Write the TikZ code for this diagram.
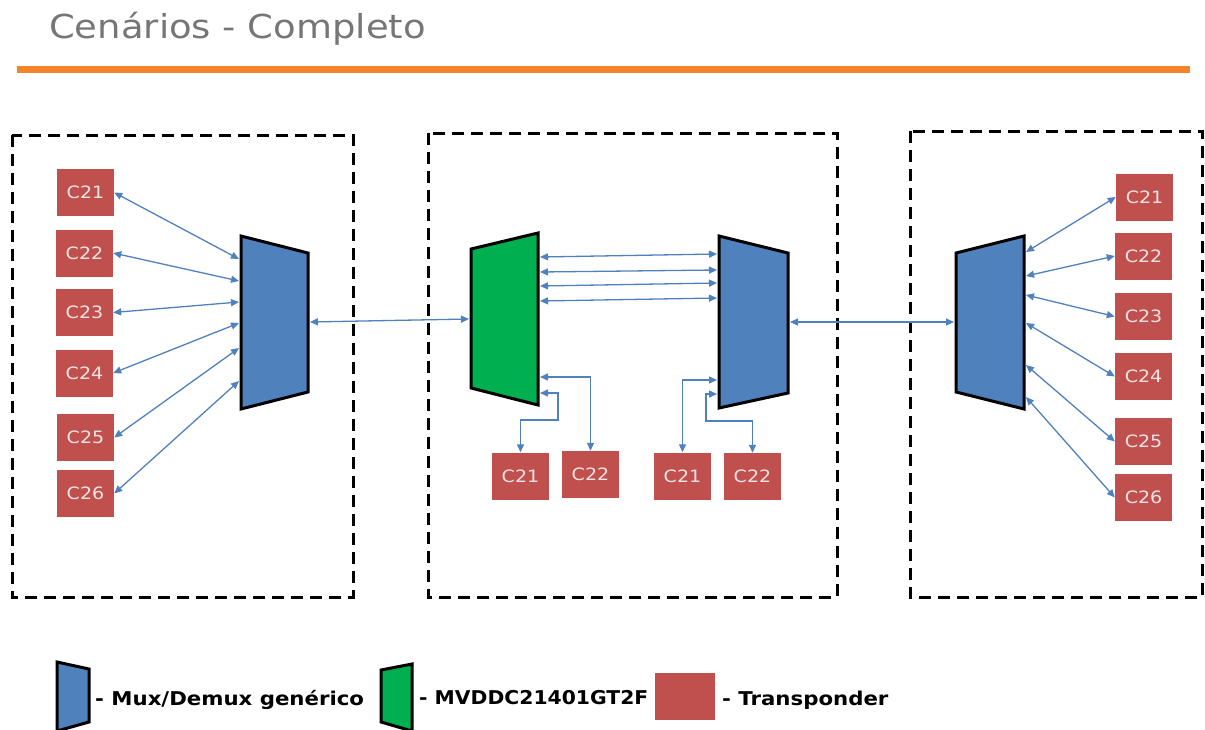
\documentclass[tikz,border=0pt]{standalone}
\usepackage{fontspec}
\setmainfont{DejaVu Sans}
\newfontfamily\wideface[FakeStretch=1.12]{DejaVu Sans}
\newfontfamily\midface[FakeStretch=1.07]{DejaVu Sans}
\usetikzlibrary{arrows.meta}
\definecolor{tpred}{RGB}{192,80,77}
\definecolor{muxblue}{RGB}{79,129,189}
\definecolor{mvgreen}{RGB}{0,176,80}
\definecolor{linkblue}{RGB}{79,129,189}
\definecolor{titlegray}{RGB}{118,118,118}
\definecolor{barorange}{RGB}{242,132,42}
\definecolor{tptext}{RGB}{245,228,227}

\begin{document}
\begin{tikzpicture}[x=1pt, y=-1pt,
	tp/.style={fill=tpred, text=tptext, minimum width=57pt, minimum height=47pt, inner sep=0pt, font=\wideface\fontsize{17}{20}\selectfont},
	link/.style={linkblue, line width=1.3pt, {Triangle[length=8pt,width=7pt]}-{Triangle[length=8pt,width=7pt]}},
	box/.style={line width=3pt, dash pattern=on 12pt off 7pt},
	mux/.style={draw=black, line width=3pt, line join=miter},
	legend/.style={anchor=west, inner sep=0pt, font=\wideface\bfseries\fontsize{19}{22}\selectfont}]
		\useasboundingbox (0, 0) rectangle (1205, 729);
		\node[anchor=base west, inner sep=0pt, text=titlegray, font=\wideface\fontsize{33}{38}\selectfont] (title) at (49, 38) {Cenários - Completo};
		\fill[barorange] (17, 66) rectangle (1190, 73);

		% dashed frames
		\draw[box] (12, 135) rectangle (353, 597);
		\draw[box] (428, 133) rectangle (837, 597);
		\draw[box] (910, 131) rectangle (1202, 597);

		% mux / demux
		\filldraw[mux, fill=muxblue] (241, 236) -- (308, 253) -- (308, 392) -- (241, 409) -- cycle;
		\filldraw[mux, fill=mvgreen] (471, 249) -- (538, 233) -- (538, 405) -- (471, 388) -- cycle;
		\filldraw[mux, fill=muxblue] (719, 236) -- (788, 253) -- (788, 393) -- (719, 408) -- cycle;
		\filldraw[mux, fill=muxblue] (956, 253) -- (1024, 236) -- (1024, 409) -- (956, 392) -- cycle;

		% ports
		\foreach \i/\y in {1/259, 2/281, 3/302, 4/323, 5/348, 6/381}
			\coordinate (lm\i) at (239, \y);
		\foreach \i/\y in {1/252, 2/276, 3/295, 4/323, 5/365, 6/397}
			\coordinate (rm\i) at (1026, \y);
		\foreach \i/\y in {1/257, 2/272, 3/286, 4/301, 5/377, 6/393}
			\coordinate (g\i) at (540, \y);
		\foreach \i/\y in {1/254, 2/270, 3/283, 4/298, 5/380, 6/394}
			\coordinate (b\i) at (717, \y);
		\coordinate (lmo) at (310, 322);
		\coordinate (gi) at (469, 319);
		\coordinate (bo) at (790, 322);
		\coordinate (ri) at (954, 322);

		% transponders
		\node[tp] (L1) at (85.5, 192.5) {C21};
		\node[tp] (L2) at (84.5, 253) {C22};
		\node[tp] (L3) at (84.5, 312.5) {C23};
		\node[tp] (L4) at (84.5, 373) {C24};
		\node[tp] (L5) at (85.5, 437.5) {C25};
		\node[tp] (L6) at (85.5, 493.5) {C26};
		\node[tp] (R1) at (1144.5, 197) {C21};
		\node[tp] (R2) at (1143.5, 256) {C22};
		\node[tp] (R3) at (1143.5, 316.5) {C23};
		\node[tp] (R4) at (1143.5, 376.5) {C24};
		\node[tp] (R5) at (1143.5, 441.5) {C25};
		\node[tp] (R6) at (1143.5, 497.5) {C26};
		\node[tp] (G1) at (520.5, 476) {C21};
		\node[tp] (G2) at (590.5, 474.5) {C22};
		\node[tp] (B1) at (682.5, 476) {C21};
		\node[tp] (B2) at (752.5, 476.5) {C22};

		% links
		\foreach \i in {1, ..., 6} {
			\draw[link] (L\i.east) -- (lm\i);
			\draw[link] (rm\i) -- (R\i.west);
		}
		\foreach \i in {1, ..., 4}
			\draw[link] (g\i) -- (b\i);
		\draw[link] (lmo) -- (gi);
		\draw[link] (bo) -- (ri);
		\draw[link] (g5) -| (G2.north);
		\draw[link] (g6) -| (558, 420) -| (G1.north);
		\draw[link] (B1.north) |- (b5);
		\draw[link] (b6) -| (706, 421) -| (B2.north);

		% legend
		\filldraw[mux, fill=muxblue] (57, 662) -- (89, 669) -- (89, 722) -- (57, 731) -- cycle;
		\node[legend] (lgmux) at (95, 700) {- Mux/Demux genérico};
		\filldraw[mux, fill=mvgreen] (381, 670) -- (412, 664) -- (412, 731) -- (381, 722) -- cycle;
		\node[legend, font=\midface\bfseries\fontsize{19}{22}\selectfont] (lgmv) at (419, 698) {- MVDDC21401GT2F};
		\node[fill=tpred, minimum width=60pt, minimum height=47pt, inner sep=0pt] (lgtp) at (685, 696.5) {};
		\node[legend] (lgtxt) at (722, 700) {- Transponder};
	\end{tikzpicture}
\end{document}
